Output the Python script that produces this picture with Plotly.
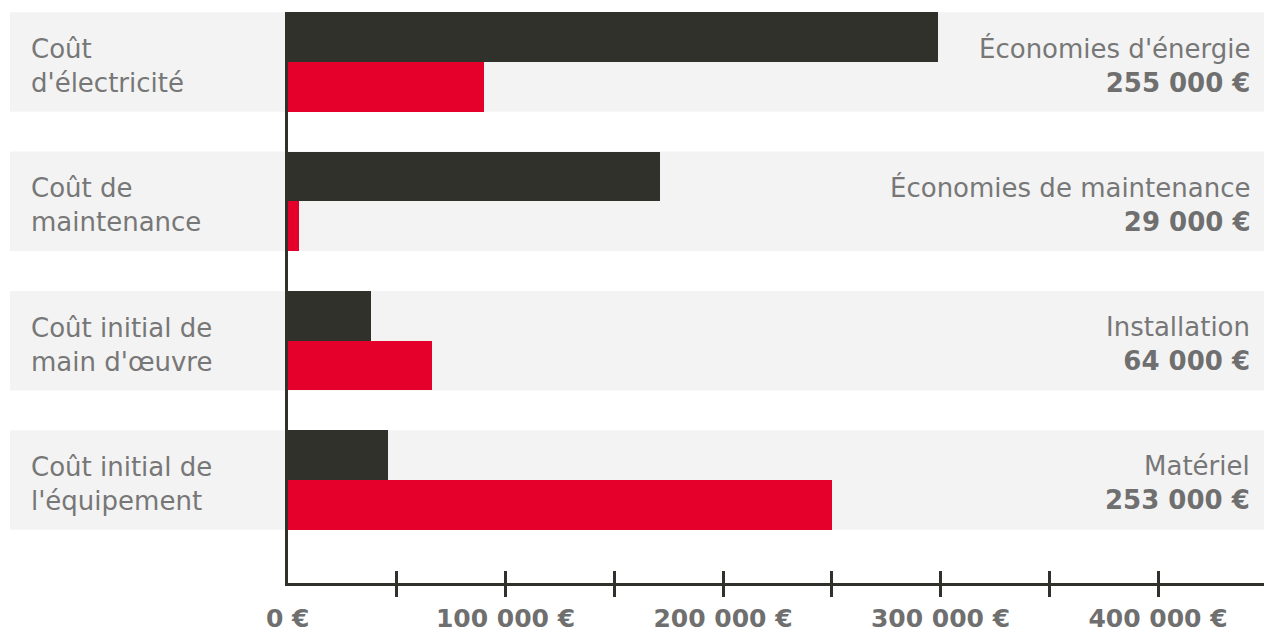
import plotly.graph_objects as go

# ---- data ----
categories = ["Coût<br>d'électricité", "Coût de<br>maintenance",
              "Coût initial de<br>main d'œuvre", "Coût initial de<br>l'équipement"]
dark_values = [299000, 171000, 38000, 46000]
red_values = [90000, 5000, 66000, 250000]
right_titles = ["Économies d'énergie", "Économies de maintenance", "Installation", "Matériel"]
right_values = ["255 000 €", "29 000 €", "64 000 €", "253 000 €"]
tick_vals = [50000, 100000, 150000, 200000, 250000, 300000, 350000, 400000]
tick_text = ["", "100 000 €", "", "200 000 €", "", "300 000 €", "", "400 000 €"]
zero_label = "0 €"

DARK = "#31312c"
RED = "#e4002b"
BAND = "#f3f3f3"
GREY = "#6f6f6f"
GREY_LIGHT = "#777777"
FONT = "DejaVu Sans"

pos = list(range(len(categories)))
half = 0.357

fig = go.Figure()
fig.add_trace(go.Bar(y=pos, x=dark_values, orientation="h", width=half, offset=-half,
                     marker=dict(color=DARK, line=dict(width=0)), name="Coût actuel",
                     hoverinfo="x"))
fig.add_trace(go.Bar(y=pos, x=red_values, orientation="h", width=half, offset=0,
                     marker=dict(color=RED, line=dict(width=0)), name="Coût nouveau",
                     hoverinfo="x"))
# invisible trace to carry the overlay axis for inside ticks
fig.add_trace(go.Scatter(x=[0], y=[0], xaxis="x2", mode="markers",
                         marker=dict(opacity=0), showlegend=False, hoverinfo="skip"))

W, H = 1264, 633
ml, mr, mt, mb = 288, 0, 12, 50
plot_w = W - ml - mr
px_per_unit = 2.175 / 1000.0  # pixels per euro
xmax = plot_w / px_per_unit
band_left = (10 - ml) / plot_w

shapes = []
for p in pos:
    shapes.append(dict(type="rect", xref="paper", yref="y", x0=band_left, x1=1,
                       y0=p - half, y1=p + half, fillcolor=BAND, line=dict(width=0),
                       layer="below"))

annotations = []
for p, cat in zip(pos, categories):
    annotations.append(dict(xref="paper", yref="y", x=(29 - ml) / plot_w, y=p, yshift=-4,
                            xanchor="left", yanchor="middle", align="left", showarrow=False,
                            text=cat, font=dict(family=FONT, size=26, color=GREY_LIGHT)))
for p, t, v in zip(pos, right_titles, right_values):
    annotations.append(dict(xref="paper", yref="y", x=(1252 - ml) / plot_w, y=p, yshift=-3,
                            xanchor="right", yanchor="middle", align="right", showarrow=False,
                            text=f"<span style='color:{GREY_LIGHT}'>{t}</span><br><b>{v}</b>",
                            font=dict(family=FONT, size=26, color=GREY)))
annotations.append(dict(xref="x", yref="paper", x=0, y=0, yshift=-35, xanchor="center",
                        yanchor="middle", showarrow=False, text=f"<b>{zero_label}</b>",
                        font=dict(family=FONT, size=25, color=GREY)))

axis_common = dict(range=[0, xmax], tickvals=tick_vals, tickwidth=3, tickcolor=DARK,
                   showgrid=False, zeroline=False)

fig.update_layout(
    width=W, height=H,
    margin=dict(l=ml, r=mr, t=mt, b=mb, pad=0),
    paper_bgcolor="white", plot_bgcolor="white",
    showlegend=False,
    bargap=0, barmode="overlay",
    xaxis=dict(**axis_common, ticktext=tick_text, ticks="outside", ticklen=11,
               showline=True, linecolor=DARK, linewidth=3,
               tickfont=dict(family=FONT, size=25, color=GREY, weight="bold")),
    xaxis2=dict(**axis_common, overlaying="x", side="bottom", anchor="y", ticks="inside",
                ticklen=12, showticklabels=False, showline=False),
    yaxis=dict(range=[3.739, -0.359], showticklabels=False, ticks="", showgrid=False,
               zeroline=False, showline=True, linecolor=DARK, linewidth=3),
    shapes=shapes,
    annotations=annotations,
)

fig.write_html("out.html", config={"displayModeBar": False},
               post_script="document.body.style.margin='0';document.body.style.overflow='hidden';")
